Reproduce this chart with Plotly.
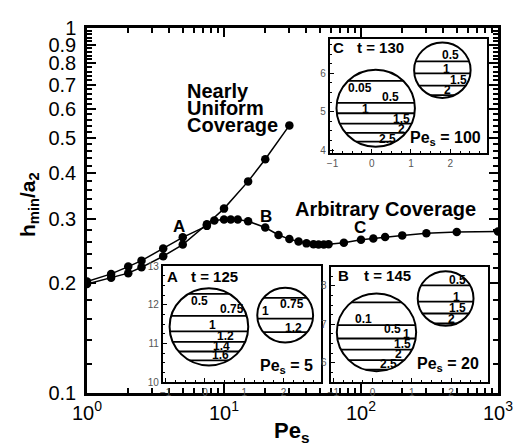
import numpy as np
import plotly.graph_objects as go

FONT = "Liberation Sans, Arial, sans-serif"

# ---------------- main data ----------------
pe_uniform = [1, 1.5, 2, 2.5, 3.6, 5, 7.5, 10, 15, 20, 30]
h_uniform = [0.199, 0.207, 0.213, 0.221, 0.237, 0.255, 0.290, 0.320, 0.380, 0.437, 0.541]

pe_arbitrary = [1, 1.5, 2, 2.5, 3.6, 5, 7.5, 8.5, 10, 11.2, 12.6, 15, 20, 25, 30, 35, 40,
                45, 49, 53.5, 58, 75, 100, 123, 150, 200, 300, 500, 1000]
h_arbitrary = [0.202, 0.212, 0.222, 0.2305, 0.249, 0.267, 0.287, 0.297, 0.2986, 0.2986, 0.2986,
               0.2956, 0.284, 0.271, 0.264, 0.260, 0.257, 0.2555, 0.2553, 0.2553, 0.2555, 0.258,
               0.263, 0.265, 0.2676, 0.2703, 0.274, 0.276, 0.277]

x_tickvals = [1, 10, 100, 1000]
x_ticktext = ["10<sup>0</sup>", "10<sup>1</sup>", "10<sup>2</sup>", "10<sup>3</sup>"]
y_tickvals = [0.1, 0.2, 0.3, 0.4, 0.5, 0.6, 0.7, 0.8, 0.9, 1.0]
y_ticktext = ["0.1", "0.2", "0.3", "0.4", "0.5", "0.6", "0.7", "0.8", "0.9", "1"]
x_minor = [m * d for d in (1, 10, 100) for m in range(2, 10)]
y_minor = [round(0.1 + 0.02 * i, 2) for i in range(46) if (i % 5) != 0]

# ---------------- inset data ----------------
inset_A_circles = [(0.1, 11.43, 1.0), (2.04, 11.73, 0.71)]
inset_A_levels = [[12.28, 11.71, 11.31, 11.04, 10.79, 10.56], [12.18, 11.64, 11.29]]
inset_A_labels = ["0.5", "0.75", "1", "1.2", "1.4", "1.6", "0.75", "1", "1.2"]
inset_A_label_x = [-0.15, 0.68, 0.2, 0.51, 0.41, 0.39, 2.21, 1.55, 2.25]
inset_A_label_y = [12.11, 11.89, 11.47, 11.18, 10.93, 10.71, 12.01, 11.83, 11.41]

inset_B_circles = [(0.1, 6.79, 1.01), (1.86, 7.67, 0.71)]
inset_B_levels = [[7.57, 6.98, 6.63, 6.34, 6.07, 5.82], [8.01, 7.59, 7.28, 7.02]]
inset_B_labels = ["0.1", "0.5", "1", "1.5", "2", "2.5", "0.5", "1", "1.5", "2"]
inset_B_label_x = [-0.24, 0.52, 0.86, 0.75, 0.67, 0.41, 2.15, 2.14, 2.17, 2.0]
inset_B_label_y = [7.14, 6.89, 6.75, 6.48, 6.22, 5.97, 8.16, 7.72, 7.41, 7.13]

inset_C_circles = [(0.1, 5.09, 1.0), (1.8, 6.08, 0.72)]
inset_C_levels = [[5.80, 5.23, 4.96, 4.69, 4.45, 4.22], [6.31, 6.0, 5.68, 5.43]]
inset_C_labels = ["0.05", "0.5", "1", "1.5", "2", "2.5", "0.5", "1", "1.5", "2"]
inset_C_label_x = [-0.29, 0.47, -0.17, 0.76, 0.76, 0.41, 2.02, 1.9, 2.2, 1.93]
inset_C_label_y = [5.63, 5.38, 5.08, 4.81, 4.56, 4.28, 6.47, 6.1, 5.82, 5.56]

insets = [
    dict(name="A", t="t = 125", pe="5", ax="2", circles=inset_A_circles, levels=inset_A_levels,
         labels=inset_A_labels, lx=inset_A_label_x, ly=inset_A_label_y,
         xdom=[0.1847, 0.5683], ydom=[0.0301, 0.3476], xr=[-1.07, 2.94], yr=[10, 13],
         yt=[10, 11, 12, 13], title_pos=(-0.83, 0.23, 12.73), pe_pos=(2.8, 10.39)),
    dict(name="B", t="t = 145", pe="20", ax="3", circles=inset_B_circles, levels=inset_B_levels,
         labels=inset_B_labels, lx=inset_B_label_x, ly=inset_B_label_y,
         xdom=[0.5925, 0.9758], ydom=[0.0301, 0.3465], xr=[-1.07, 2.94], yr=[5.5, 8.5],
         yt=[6, 7, 8], title_pos=(-0.74, 0.39, 8.27), pe_pos=(2.76, 5.95)),
    dict(name="C", t="t = 130", pe="100", ax="4", circles=inset_C_circles, levels=inset_C_levels,
         labels=inset_C_labels, lx=inset_C_label_x, ly=inset_C_label_y,
         xdom=[0.5908, 0.9734], ydom=[0.6569, 0.9707], xr=[-1.07, 2.94], yr=[3.92, 6.9],
         yt=[4, 5, 6], title_pos=(-0.85, 0.21, 6.66), pe_pos=(2.84, 4.30)),
]

fig = go.Figure()

fig.add_trace(go.Scatter(x=pe_uniform, y=h_uniform, mode="lines+markers",
                         line=dict(color="black", width=1.5),
                         marker=dict(color="black", size=8.5), showlegend=False))
fig.add_trace(go.Scatter(x=pe_arbitrary, y=h_arbitrary, mode="lines+markers",
                         line=dict(color="black", width=1.5),
                         marker=dict(color="black", size=8.5), showlegend=False))

shapes = []
annotations = []
layout_axes = {}


def ann(x, y, text, size, xref="paper", yref="paper", xanchor="center", yanchor="middle", **kw):
    d = dict(x=x, y=y, xref=xref, yref=yref, text=text, showarrow=False,
             xanchor=xanchor, yanchor=yanchor, font=dict(family=FONT, size=size, color="black"))
    d.update(kw)
    annotations.append(d)


for ins in insets:
    ax = ins["ax"]
    xa, ya = "x" + ax, "y" + ax
    shapes.append(dict(type="rect", xref=xa + " domain", yref=ya + " domain", x0=0, x1=1, y0=0, y1=1,
                       fillcolor="white", line=dict(width=0), layer="below"))
    xs, ys = [], []
    for (cx, cy, r), levs in zip(ins["circles"], ins["levels"]):
        shapes.append(dict(type="circle", xref=xa, yref=ya, x0=cx - r, x1=cx + r, y0=cy - r, y1=cy + r,
                           line=dict(color="black", width=2)))
        for lv in levs:
            dx = np.sqrt(max(r * r - (lv - cy) ** 2, 0))
            xs += [cx - dx, cx + dx, None]
            ys += [lv, lv, None]
    fig.add_trace(go.Scatter(x=xs, y=ys, mode="lines", line=dict(color="black", width=1.8),
                             xaxis=xa, yaxis=ya, showlegend=False, hoverinfo="skip"))
    for txt, lx, ly in zip(ins["labels"], ins["lx"], ins["ly"]):
        ann(lx, ly, "<b>%s</b>" % txt, 12, xref=xa, yref=ya)
    tx1, tx2, ty = ins["title_pos"]
    ann(tx1, ty, "<b>%s</b>" % ins["name"], 15, xref=xa, yref=ya)
    ann(tx2, ty, "<b>%s</b>" % ins["t"], 15, xref=xa, yref=ya)
    px, py = ins["pe_pos"]
    ann(px, py, "<b>Pe<sub>s</sub> = %s</b>" % ins["pe"], 16, xref=xa, yref=ya, xanchor="right")
    layout_axes["xaxis" + ax] = dict(domain=ins["xdom"], anchor=ya, range=ins["xr"],
                                     tickvals=[-1, 0, 1, 2], ticks="inside", ticklen=4, tickwidth=1,
                                     tickcolor="black", showline=True, mirror=True, linecolor="black",
                                     linewidth=2, showgrid=False, zeroline=False,
                                     tickfont=dict(family=FONT, size=10, color="#555"),
                                     minor=dict(dtick=0.25, ticks="inside", ticklen=2, tickcolor="black"))
    layout_axes["yaxis" + ax] = dict(domain=ins["ydom"], anchor=xa, range=ins["yr"],
                                     tickvals=ins["yt"], ticks="inside", ticklen=4, tickwidth=1,
                                     tickcolor="black", showline=True, mirror=True, linecolor="black",
                                     linewidth=2, showgrid=False, zeroline=False,
                                     tickfont=dict(family=FONT, size=10, color="#555"),
                                     minor=dict(dtick=0.25, ticks="inside", ticklen=2, tickcolor="black"))

# page body has an 8px margin: plot-area pixel positions below are in window pixels
OX, OY = 87, 17
PW, PH = 413, 376


def px_to_paper(xx, yy):
    return (xx - OX) / PW, (OY + PH - yy) / PH


for txt, yy in (("Nearly", 82), ("Uniform", 99.5), ("Coverage", 117)):
    x0, y0 = px_to_paper(185, yy)
    ann(x0, y0, "<b>%s</b>" % txt, 20, xanchor="left")
x0, y0 = px_to_paper(387, 203)
ann(x0, y0, "<b>Arbitrary Coverage</b>", 20)
for txt, xx, yy in (("A", 179, 221.5), ("B", 266.7, 211), ("C", 361.7, 222.5)):
    x0, y0 = px_to_paper(xx, yy)
    ann(x0, y0, "<b>%s</b>" % txt, 17)
x0, y0 = px_to_paper(292, 433)
ann(x0, y0, "<b>Pe<sub>s</sub></b>", 22)
x0, y0 = px_to_paper(28, 199)
ann(x0, y0, "<b>h<sub>min</sub>/a<sub>2</sub></b>", 21, textangle=-90)

fig.update_layout(
    width=514, height=438,
    margin=dict(l=OX - 8, r=514 - (OX - 8) - PW, t=OY - 8, b=438 - (OY - 8) - PH),
    paper_bgcolor="white", plot_bgcolor="white",
    showlegend=False,
    xaxis=dict(type="log", range=[0, 3], domain=[0, 1], tickvals=x_tickvals, ticktext=x_ticktext,
               ticks="inside", ticklen=9, tickwidth=2, tickcolor="black",
               showline=True, linecolor="black", linewidth=2.5, mirror="ticks",
               showgrid=False, zeroline=False,
               tickfont=dict(family=FONT, size=20, color="black"),
               minor=dict(tickvals=x_minor, ticks="inside", ticklen=5, tickwidth=1.5, tickcolor="black")),
    yaxis=dict(type="log", range=[-1, 0], domain=[0, 1], tickvals=y_tickvals, ticktext=y_ticktext,
               ticks="inside", ticklen=9, tickwidth=2, tickcolor="black",
               showline=True, linecolor="black", linewidth=2.5, mirror="ticks",
               showgrid=False, zeroline=False, ticklabelstandoff=4,
               tickfont=dict(family=FONT, size=20, color="black"),
               minor=dict(tickvals=y_minor, ticks="inside", ticklen=5, tickwidth=1.5, tickcolor="black")),
    shapes=shapes,
    annotations=annotations,
    **layout_axes,
)

fig.write_html("out.html")
